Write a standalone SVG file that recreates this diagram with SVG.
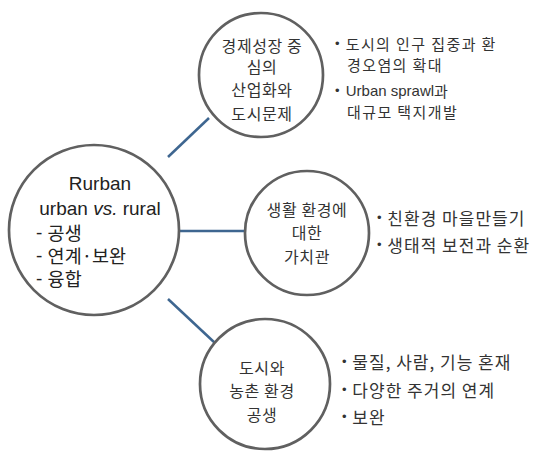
<svg xmlns="http://www.w3.org/2000/svg" width="539" height="452" viewBox="0 0 539 452">
<style>
.c{fill:#fff;stroke:#606060;stroke-width:2.7}
.t{font-family:"Noto Sans CJK KR","Liberation Sans",sans-serif;fill:#333;dominant-baseline:central}
.ct{font-size:16px;letter-spacing:0.6px;text-anchor:middle}
.bt{font-size:15px;letter-spacing:1.4px}
.bm{font-size:17px;letter-spacing:1px}
.d{font-family:"Liberation Sans",sans-serif;font-size:13px}
.m{font-family:"Liberation Sans","Noto Sans CJK KR",sans-serif;font-size:19px;fill:#222;dominant-baseline:central}
.k{font-family:"Noto Sans CJK KR",sans-serif;font-size:18.5px}
.ln{stroke:#3e6690;stroke-width:2.5;fill:none}
</style>
<rect width="539" height="452" fill="#fff"/>
<g id="connectors">
<line class="ln" x1="168" y1="157" x2="209" y2="118"/>
<line class="ln" x1="168" y1="231" x2="244" y2="231"/>
<line class="ln" x1="168" y1="299" x2="215" y2="343"/>
</g>
<g id="main">
<circle class="c" cx="94" cy="230" r="85"/>
<text class="m" x="100" y="183" text-anchor="middle">Rurban</text>
<text class="m" x="100" y="208" text-anchor="middle">urban <tspan font-style="italic">vs.</tspan> rural</text>
<text class="m" x="36" y="232">- <tspan class="k">공생</tspan></text>
<text class="m" x="36" y="255">- <tspan class="k">연계·보완</tspan></text>
<text class="m" x="36" y="278">- <tspan class="k">융합</tspan></text>
</g>
<g id="node-economy">
<circle class="c" cx="261" cy="75" r="62"/>
<text class="t ct" x="262" y="45">경제성장 중</text>
<text class="t ct" x="262" y="66">심의</text>
<text class="t ct" x="262" y="89">산업화와</text>
<text class="t ct" x="262" y="113">도시문제</text>
</g>
<g id="bullets-economy">
<text class="t bt" x="335" y="43"><tspan class="d">•</tspan> 도시의 인구 집중과 환</text>
<text class="t bt" x="347" y="64">경오염의 확대</text>
<text class="t bt" x="335" y="90"><tspan class="d">•</tspan> <tspan font-family="Liberation Sans" letter-spacing="0">Urban sprawl</tspan>과</text>
<text class="t bt" x="347" y="111">대규모 택지개발</text>
</g>
<g id="node-values">
<circle class="c" cx="307" cy="233" r="62"/>
<text class="t ct" x="307" y="209">생활 환경에</text>
<text class="t ct" x="307" y="232">대한</text>
<text class="t ct" x="307" y="256">가치관</text>
</g>
<g id="bullets-values">
<text class="t bm" x="377" y="217"><tspan class="d">•</tspan> 친환경 마을만들기</text>
<text class="t bm" x="377" y="244"><tspan class="d">•</tspan> 생태적 보전과 순환</text>
</g>
<g id="node-coexist">
<circle class="c" cx="265" cy="384" r="65"/>
<text class="t ct" x="262" y="367">도시와</text>
<text class="t ct" x="262" y="390">농촌 환경</text>
<text class="t ct" x="262" y="414">공생</text>
</g>
<g id="bullets-coexist">
<text class="t bm" x="342" y="361"><tspan class="d">•</tspan> 물질, 사람, 기능 혼재</text>
<text class="t bm" x="342" y="389"><tspan class="d">•</tspan> 다양한 주거의 연계</text>
<text class="t bm" x="342" y="416"><tspan class="d">•</tspan> 보완</text>
</g>
</svg>
